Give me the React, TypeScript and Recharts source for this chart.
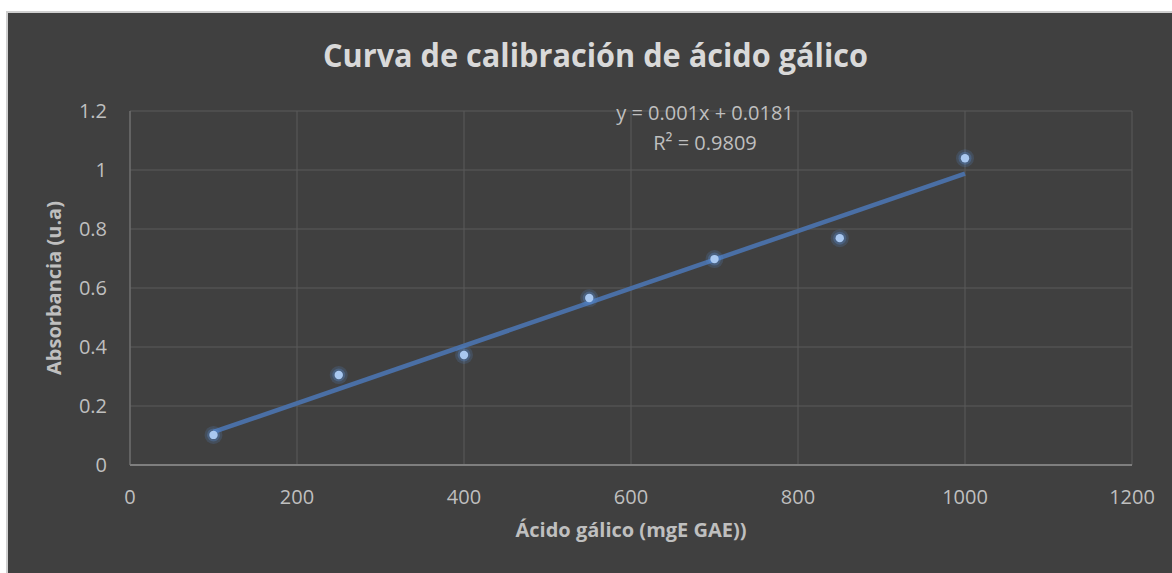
import { ComposedChart, Scatter, Line, XAxis, YAxis, CartesianGrid } from 'recharts'

const concentrations = [100, 250, 400, 550, 700, 850, 1000]
const absorbances = [0.102, 0.305, 0.373, 0.566, 0.698, 0.769, 1.04]

const trendX = [100, 1000]
const trendY = [0.112, 0.988]

const xTicks = [0, 200, 400, 600, 800, 1000, 1200]
const yTicks = [0, 0.2, 0.4, 0.6, 0.8, 1, 1.2]

const title = 'Curva de calibración de ácido gálico'
const xTitle = 'Ácido gálico (mgE GAE))'
const yTitle = 'Absorbancia (u.a)'
const equation = 'y = 0.001x + 0.0181'
const rSquared = 'R² = 0.9809'

const points = concentrations.map((x, i) => ({ x, y: absorbances[i] }))
const trend = trendX.map((x, i) => ({ x, y: trendY[i] }))

const FONT = '"Open Sans", sans-serif'

// glowing dot like Excel's marker
function GlowDot(props: any) {
  const { cx, cy } = props
  if (cx == null || cy == null) return null
  return (
    <g>
      <circle cx={cx} cy={cy} r={9} fill="#5b8fd6" opacity={0.18} />
      <circle cx={cx} cy={cy} r={6.5} fill="#5b8fd6" opacity={0.3} />
      <circle cx={cx} cy={cy} r={4.2} fill="#a9c8f0" />
    </g>
  )
}

export default function App() {
  return (
    <div style={{ position: 'fixed', left: 0, top: 0, width: 1172, height: 573, background: '#ffffff', overflow: 'hidden' }}>
      <div
        style={{
          position: 'absolute',
          left: 6,
          top: 11,
          width: 1166,
          height: 562,
          background: '#404040',
          borderTop: '2px solid #cfcfcf',
          borderLeft: '2px solid #cfcfcf',
        }}
      >
        <ComposedChart width={1164} height={560} margin={{ top: 98, right: 40, bottom: 0, left: 0 }}>
          <CartesianGrid stroke="#5a5a5a" strokeWidth={1} />
          <XAxis
            type="number"
            dataKey="x"
            domain={[0, 1200]}
            ticks={xTicks}
            height={108}
            axisLine={{ stroke: '#7f7f7f', strokeWidth: 2 }}
            tickLine={false}
            tickSize={0}
            tickMargin={25}
            tick={{ fill: '#bfbfbf', fontSize: 20, fontFamily: FONT }}
            label={{ value: xTitle, position: 'insideBottom', offset: 36, fill: '#bfbfbf', fontSize: 20, fontWeight: 700, fontFamily: FONT }}
          />
          <YAxis
            type="number"
            dataKey="y"
            domain={[0, 1.2]}
            ticks={yTicks}
            width={122}
            axisLine={{ stroke: '#7a7a7a', strokeWidth: 1 }}
            tickLine={false}
            tickSize={0}
            tickMargin={23}
            tick={{ fill: '#bfbfbf', fontSize: 20, fontFamily: FONT }}
            label={{ value: yTitle, angle: -90, position: 'insideLeft', offset: 46, textAnchor: 'middle', fill: '#bfbfbf', fontSize: 20, fontWeight: 700, fontFamily: FONT }}
          />
          <Line
            data={trend}
            dataKey="y"
            type="linear"
            stroke="#4a6fa5"
            strokeWidth={4.5}
            dot={false}
            activeDot={false}
            isAnimationActive={false}
          />
          <Scatter data={points} dataKey="y" shape={<GlowDot />} isAnimationActive={false} />
        </ComposedChart>
      </div>
      <svg width={1172} height={573} style={{ position: 'absolute', left: 0, top: 0, pointerEvents: 'none' }}>
        <text
          x={595.5}
          y={67}
          textAnchor="middle"
          fill="#d9d9d9"
          fontSize={32}
          fontWeight={700}
          fontFamily={FONT}
          textLength={545}
          lengthAdjust="spacingAndGlyphs"
        >
          {title}
        </text>
        <text x={705} y={120} textAnchor="middle" fill="#bfbfbf" fontSize={20} fontFamily={FONT}>
          {equation}
        </text>
        <text x={705} y={150} textAnchor="middle" fill="#bfbfbf" fontSize={20} fontFamily={FONT}>
          {rSquared}
        </text>
      </svg>
    </div>
  )
}
